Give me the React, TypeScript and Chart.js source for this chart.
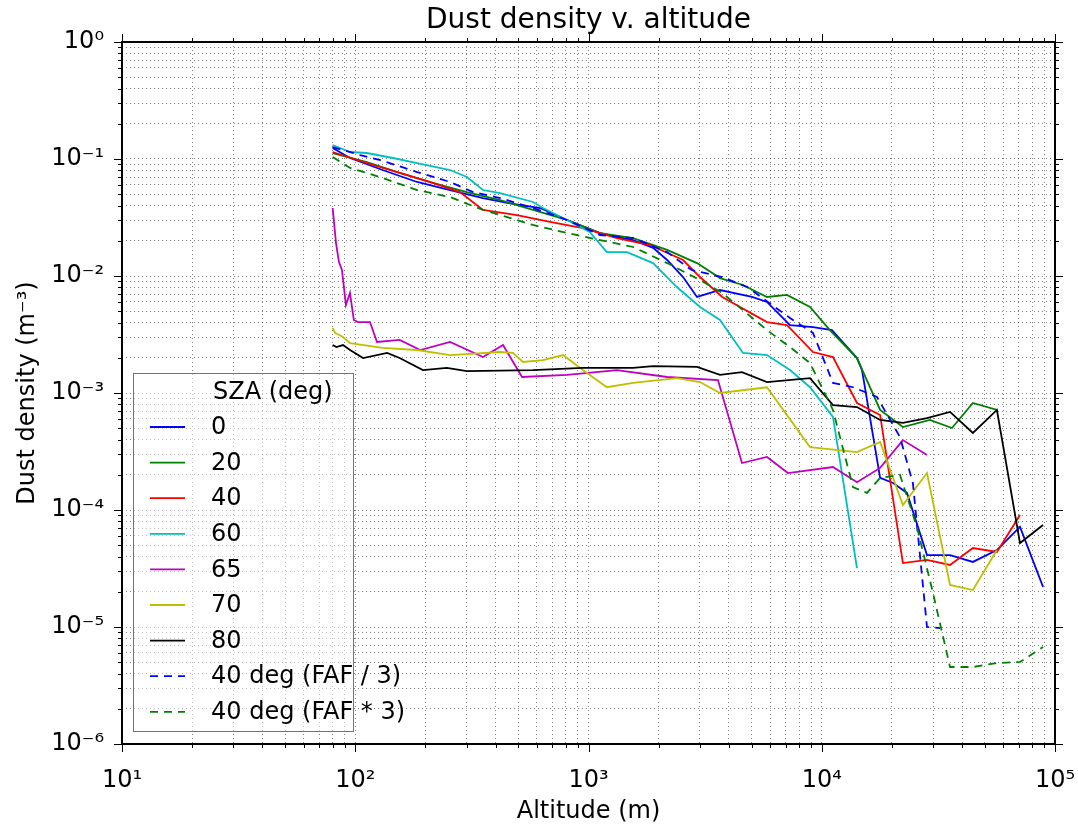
import React, { useEffect, useRef } from 'react';
import { Chart, registerables } from 'chart.js';

Chart.register(...registerables);

const FONT = '"DejaVu Sans", "Liberation Sans", sans-serif';

// ---- data (altitude in m, dust density in m^-3) ----
const chartTitle = 'Dust density v. altitude';
const xAxisTitle = 'Altitude (m)';
const yAxisTitle = 'Dust density (m\u207B\u00B3)';
const legendTitle = 'SZA (deg)';

const seriesLabels = ['0', '20', '40', '60', '65', '70', '80', '40 deg (FAF / 3)', '40 deg (FAF * 3)'];
const seriesColors = ['#0000ff', '#008000', '#ff0000', '#00bfbf', '#bf00bf', '#bfbf00', '#000000', '#0000ff', '#008000'];
const seriesDashed = [false, false, false, false, false, false, false, true, true];

const alt0 = [80, 95, 131, 184, 255, 353, 448, 620, 809, 1121, 1552, 1892, 2173, 2543, 2919, 3662, 5024, 5823, 7309, 9170, 11060, 14160, 14880, 17790, 20220, 23200, 28260, 35480, 44460, 56360, 70790, 88860];
const dens0 = [0.124, 0.102, 0.0805, 0.0636, 0.0543, 0.0464, 0.0421, 0.0381, 0.0301, 0.0233, 0.0203, 0.0174, 0.0137, 0.0098, 0.00662, 0.00759, 0.00662, 0.006, 0.00381, 0.00366, 0.00345, 0.00199, 0.00157, 0.000188, 0.00017, 0.00014, 4.12e-5, 4.12e-5, 3.6e-5, 4.55e-5, 7.16e-5, 2.2e-5];

const alt20 = [80, 112, 155, 215, 301, 418, 578, 809, 1121, 1552, 2173, 2919, 3662, 4594, 5823, 7096, 8905, 10830, 14160, 17790, 22280, 29090, 36160, 44460, 56360];
const dens20 = [0.1125, 0.0942, 0.076, 0.0624, 0.0522, 0.0446, 0.0367, 0.0301, 0.0233, 0.0211, 0.0167, 0.0129, 0.0096, 0.00838, 0.00662, 0.00689, 0.00543, 0.00345, 0.00199, 0.000716, 0.000512, 0.000588, 0.000502, 0.000822, 0.000716];

const alt40 = [80, 112, 155, 215, 281, 353, 493, 684, 946, 1324, 1835, 2543, 3006, 3745, 5823, 7096, 9170, 11170, 14160, 17790, 22280, 28260, 35480, 44460, 56360, 70790];
const dens40 = [0.1148, 0.0924, 0.076, 0.0624, 0.0522, 0.0367, 0.0332, 0.029, 0.0257, 0.0211, 0.0184, 0.0137, 0.0098, 0.00662, 0.00404, 0.00381, 0.00224, 0.00203, 0.000822, 0.000649, 3.52e-5, 3.74e-5, 3.39e-5, 4.73e-5, 4.38e-5, 9.06e-5];

const alt60 = [80, 95, 112, 145, 184, 255, 301, 353, 418, 578, 638, 809, 1011, 1199, 1463, 1892, 2392, 3006, 3662, 4594, 5823, 7309, 8905, 11170, 14160];
const dens60 = [0.1318, 0.1148, 0.1125, 0.102, 0.0924, 0.0805, 0.0702, 0.0543, 0.0512, 0.0429, 0.0381, 0.0301, 0.0238, 0.016, 0.016, 0.0129, 0.00805, 0.00543, 0.00421, 0.0022, 0.00211, 0.00157, 0.00112, 0.000624, 3.19e-5];

const alt65 = [80, 82.7, 85.1, 87.7, 91.2, 94.9, 98.6, 102.7, 115.6, 124, 155, 190, 255, 353, 430, 519, 809, 1324, 2173, 3589, 4549, 5823, 7160, 11170, 14160, 17790, 22280, 28260];
const dens65 = [0.0381, 0.0191, 0.0132, 0.01125, 0.00565, 0.00716, 0.00421, 0.00404, 0.00404, 0.00273, 0.00284, 0.00233, 0.00273, 0.00203, 0.00257, 0.00137, 0.00143, 0.00157, 0.00137, 0.00129, 0.000252, 0.000284, 0.000207, 0.000233, 0.000173, 0.000229, 0.000396, 0.000295];

const alt70 = [80, 82, 88.6, 95, 131, 184, 255, 418, 474, 524, 638, 778, 946, 1199, 1552, 2392, 3006, 3662, 5823, 8905, 14160, 17790, 22280, 28260, 35480, 44460, 56360];
const dens70 = [0.0036, 0.00326, 0.00301, 0.00267, 0.00243, 0.00233, 0.00211, 0.00224, 0.0022, 0.00184, 0.00191, 0.00211, 0.00157, 0.00112, 0.00122, 0.00134, 0.00124, 0.001, 0.00112, 0.000345, 0.000313, 0.000381, 0.00011, 0.000207, 2.29e-5, 2.07e-5, 4.55e-5];

const alt80 = [80, 83, 88.6, 95, 108, 137, 155, 195, 247, 301, 578, 946, 1552, 1892, 2919, 3662, 4549, 5823, 8905, 11170, 14160, 17790, 22280, 28260, 35480, 44460, 56360, 70790, 88860];
const dens80 = [0.00257, 0.00247, 0.00257, 0.00233, 0.00199, 0.0022, 0.00199, 0.00157, 0.00164, 0.00154, 0.00157, 0.00164, 0.00164, 0.0017, 0.00167, 0.00143, 0.00151, 0.00124, 0.00134, 0.000789, 0.000759, 0.000588, 0.000555, 0.000611, 0.000689, 0.000455, 0.000716, 5.22e-5, 7.44e-5];

const altFafDiv3 = [80, 105, 128, 184, 255, 320, 418, 578, 809, 1121, 1552, 2173, 2766, 3745, 4787, 7309, 9170, 11170, 13610, 17250, 21640, 24590, 28260, 32140];
const densFafDiv3 = [0.1266, 0.108, 0.098, 0.0774, 0.0636, 0.0522, 0.0464, 0.0381, 0.0301, 0.0224, 0.0211, 0.016, 0.01125, 0.0098, 0.00805, 0.00438, 0.00326, 0.00122, 0.00112, 0.000925, 0.000421, 0.00017, 1.0e-5, 9.8e-6];

const altFafMul3 = [80, 95, 112, 131, 184, 255, 353, 418, 578, 809, 1121, 1552, 2173, 3006, 3745, 5823, 7309, 8905, 11170, 13610, 15630, 17790, 21640, 25590, 29990, 35480, 44460, 56360, 70790, 88860];
const densFafMul3 = [0.104, 0.0838, 0.076, 0.0688, 0.0543, 0.0473, 0.0367, 0.0332, 0.0273, 0.0233, 0.0203, 0.0177, 0.0129, 0.00924, 0.00716, 0.00345, 0.00247, 0.0018, 0.000716, 0.000157, 0.00014, 0.000188, 0.0002, 7.16e-5, 1.95e-5, 4.55e-6, 4.55e-6, 4.92e-6, 5.03e-6, 6.74e-6];

const seriesAlt = [alt0, alt20, alt40, alt60, alt65, alt70, alt80, altFafDiv3, altFafMul3];
const seriesDens = [dens0, dens20, dens40, dens60, dens65, dens70, dens80, densFafDiv3, densFafMul3];

// axis ranges (decade exponents) and minor tick multipliers
const xMinExp = 1;
const xMaxExp = 5;
const yMinExp = -6;
const yMaxExp = 0;
const tickMultipliers = [1, 2, 3, 4, 5, 6, 7, 8, 9];

const SUP: Record<string, string> = {
  '-': '\u207B', '0': '\u2070', '1': '\u00B9', '2': '\u00B2', '3': '\u00B3',
  '4': '\u2074', '5': '\u2075', '6': '\u2076', '7': '\u2077', '8': '\u2078', '9': '\u2079',
};

function decadeTicks(minExp: number, maxExp: number): number[] {
  const out: number[] = [];
  for (let e = minExp; e < maxExp; e++) {
    for (const m of tickMultipliers) out.push(parseFloat((m * Math.pow(10, e)).toPrecision(6)));
  }
  out.push(Math.pow(10, maxExp));
  return out;
}

function isPow10(v: number): boolean {
  const l = Math.log10(v);
  return Math.abs(l - Math.round(l)) < 1e-9;
}

function powLabel(v: number): string {
  if (!isPow10(v)) return '';
  const e = String(Math.round(Math.log10(v)));
  return '10' + e.split('').map((c) => SUP[c] || c).join('');
}

const frameAndTicks = {
  id: 'frameAndTicks',
  afterDatasetsDraw(chart: any) {
    const { ctx, chartArea: a, scales } = chart;
    const xs = scales.x;
    const ys = scales.y;
    ctx.save();
    ctx.strokeStyle = '#000';
    ctx.lineWidth = 1;
    ctx.setLineDash([]);
    ctx.beginPath();
    for (const t of xs.ticks) {
      const px = Math.round(xs.getPixelForValue(t.value)) + 0.5;
      const len = isPow10(t.value) ? 8 : 4;
      ctx.moveTo(px, a.bottom);
      ctx.lineTo(px, a.bottom + len);
      ctx.moveTo(px, a.top);
      ctx.lineTo(px, a.top - len);
    }
    for (const t of ys.ticks) {
      const py = Math.round(ys.getPixelForValue(t.value)) + 0.5;
      const len = isPow10(t.value) ? 8 : 4;
      ctx.moveTo(a.left, py);
      ctx.lineTo(a.left - len, py);
      ctx.moveTo(a.right, py);
      ctx.lineTo(a.right + len, py);
    }
    ctx.stroke();
    ctx.lineWidth = 2;
    ctx.strokeRect(a.left, a.top, a.right - a.left, a.bottom - a.top);
    ctx.restore();
  },
};

const insideLegend = {
  id: 'insideLegend',
  afterDraw(chart: any) {
    const { ctx, chartArea: a } = chart;
    const w = 220;
    const h = 358;
    const x0 = a.left + 11;
    const y0 = a.bottom - 13 - h;
    ctx.save();
    ctx.fillStyle = 'rgba(255,255,255,0.5)';
    ctx.fillRect(x0, y0, w, h);
    ctx.strokeStyle = 'rgba(0,0,0,0.55)';
    ctx.lineWidth = 1;
    ctx.setLineDash([]);
    ctx.strokeRect(x0 + 0.5, y0 + 0.5, w, h);
    ctx.font = `24px ${FONT}`;
    ctx.fillStyle = '#000';
    ctx.textBaseline = 'middle';
    ctx.textAlign = 'left';
    ctx.fillText(legendTitle, x0 + 80, y0 + 20);
    chart.data.datasets.forEach((ds: any, i: number) => {
      const cy = y0 + 54 + i * 35.6;
      ctx.strokeStyle = ds.borderColor;
      ctx.lineWidth = ds.borderWidth;
      ctx.setLineDash(ds.borderDash || []);
      ctx.beginPath();
      ctx.moveTo(x0 + 17, cy);
      ctx.lineTo(x0 + 52, cy);
      ctx.stroke();
      ctx.setLineDash([]);
      ctx.fillStyle = '#000';
      ctx.fillText(ds.label, x0 + 78, cy + 1);
    });
    ctx.restore();
  },
};

export default function App() {
  const ref = useRef<HTMLCanvasElement | null>(null);

  useEffect(() => {
    if (!ref.current) return;
    const n = seriesLabels.length;
    const datasets = seriesLabels.map((label, i) => ({
      label,
      data: seriesAlt[i].map((x, j) => ({ x, y: seriesDens[i][j] })),
      borderColor: seriesColors[i],
      backgroundColor: seriesColors[i],
      borderWidth: 1.8,
      borderDash: seriesDashed[i] ? [8, 6] : [],
      pointRadius: 0,
      tension: 0,
      fill: false,
      order: n - i,
    }));

    const gridColor = 'rgba(0,0,0,0.5)';

    const chart = new Chart(ref.current, {
      type: 'line',
      data: { datasets },
      options: {
        animation: false,
        responsive: false,
        maintainAspectRatio: false,
        devicePixelRatio: 1,
        layout: { padding: { left: 0, right: 23, top: 0, bottom: 0 } },
        plugins: {
          legend: { display: false },
          tooltip: { enabled: false },
          title: {
            display: true,
            fullSize: false,
            text: chartTitle,
            color: '#000',
            font: { family: FONT, size: 28, weight: 'normal' },
            padding: { top: 4, bottom: 4.4 },
          },
        },
        scales: {
          x: {
            type: 'logarithmic',
            min: Math.pow(10, xMinExp),
            max: Math.pow(10, xMaxExp),
            afterBuildTicks: (s: any) => {
              s.ticks = decadeTicks(xMinExp, xMaxExp).map((value) => ({ value }));
            },
            afterFit: (s: any) => {
              s.height = 82;
              s.paddingLeft = 0;
              s.paddingRight = 0;
            },
            grid: { color: gridColor, lineWidth: 1, drawTicks: false },
            border: { display: false, dash: [1, 3] },
            ticks: {
              autoSkip: false,
              maxRotation: 0,
              padding: 22,
              color: '#000',
              font: { family: FONT, size: 24 },
              callback: (v: any) => powLabel(Number(v)),
            },
            title: {
              display: true,
              text: xAxisTitle,
              color: '#000',
              font: { family: FONT, size: 24 },
              padding: { top: 0, bottom: 0 },
            },
          },
          y: {
            type: 'logarithmic',
            min: Math.pow(10, yMinExp),
            max: Math.pow(10, yMaxExp),
            afterBuildTicks: (s: any) => {
              s.ticks = decadeTicks(yMinExp, yMaxExp).map((value) => ({ value }));
            },
            afterFit: (s: any) => {
              s.width = 122;
              s.paddingTop = 0;
              s.paddingBottom = 0;
            },
            grid: { color: gridColor, lineWidth: 1, drawTicks: false },
            border: { display: false, dash: [1, 3] },
            ticks: {
              autoSkip: false,
              padding: 18,
              color: '#000',
              font: { family: FONT, size: 24 },
              callback: (v: any) => powLabel(Number(v)),
            },
            title: {
              display: true,
              text: yAxisTitle,
              color: '#000',
              font: { family: FONT, size: 24 },
              padding: { top: 13, bottom: 0 },
            },
          },
        },
      },
      plugins: [frameAndTicks, insideLegend],
    } as any);

    return () => chart.destroy();
  }, []);

  return (
    <div style={{ position: 'fixed', left: 0, top: 0, width: 1078, height: 826, background: '#fff' }}>
      <canvas ref={ref} width={1078} height={826} style={{ display: 'block', width: 1078, height: 826 }} />
    </div>
  );
}
